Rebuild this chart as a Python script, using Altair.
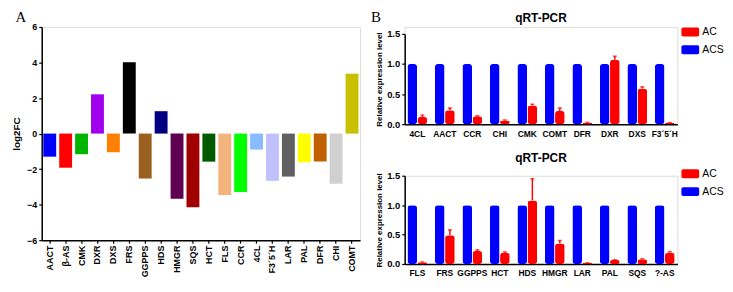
import altair as alt
import pandas as pd

FONT = "Liberation Sans"

# ---------------- Panel A data ----------------
genes_a = ["AACT", "β-AS", "CMK", "DXR", "DXS", "FRS", "GGPPS", "HDS", "HMGR", "SQS",
           "HCT", "FLS", "CCR", "4CL", "F3´5´H", "LAR", "PAL", "DFR", "CHI", "COMT"]
log2fc = [-1.3, -1.92, -1.16, 2.21, -1.05, 4.02, -2.53, 1.26, -3.67, -4.15,
          -1.58, -3.46, -3.29, -0.9, -2.66, -2.42, -1.62, -1.57, -2.83, 3.37]
colors_a = ["#0000ff", "#ff0000", "#00b400", "#a000ee", "#ff8000", "#000000", "#9a6020",
            "#000080", "#600050", "#a00000", "#005a00", "#f2b47c", "#00ff00", "#88bbff",
            "#c0c0ff", "#606060", "#ffff00", "#c06000", "#d0d0d0", "#c8c000"]
y_ticks_a = [-6, -4, -2, 0, 2, 4, 6]

# ---------------- Panel B data ----------------
genes_b1 = ["4CL", "AACT", "CCR", "CHI", "CMK", "COMT", "DFR", "DXR", "DXS", "F3´5´H"]
acs_b1 = [1.0, 1.0, 1.0, 1.0, 1.0, 1.0, 1.0, 1.0, 1.0, 1.0]
ac_b1 = [0.12, 0.23, 0.13, 0.06, 0.31, 0.22, 0.025, 1.07, 0.59, 0.02]
err_b1 = [0.03, 0.04, 0.01, 0.01, 0.02, 0.05, 0.005, 0.06, 0.03, 0.005]

genes_b2 = ["FLS", "FRS", "GGPPS", "HCT", "HDS", "HMGR", "LAR", "PAL", "SQS", "?-AS"]
acs_b2 = [1.0, 1.0, 1.0, 1.0, 1.0, 1.0, 1.0, 1.0, 1.0, 1.0]
ac_b2 = [0.03, 0.49, 0.22, 0.19, 1.08, 0.35, 0.017, 0.067, 0.08, 0.19]
err_b2 = [0.005, 0.09, 0.02, 0.015, 0.37, 0.05, 0.003, 0.005, 0.01, 0.02]

groups = ["AC", "ACS"]
group_colors = ["#ff0000", "#0000ff"]
bar_order = ["ACS", "AC"]
y_ticks_b = [0, 0.5, 1.0, 1.5]
panel_title_b = "qRT-PCR"
ytitle_b = "Relative expression level"
ytitle_a = "log2FC"
letters = ["A", "B"]

# rounded-rectangle legend swatch
SWATCH = ("M-0.9,-0.56 H0.9 A0.22,0.22 0 0 1 1.12,-0.34 V0.34 A0.22,0.22 0 0 1 0.9,0.56 "
          "H-0.9 A0.22,0.22 0 0 1 -1.12,0.34 V-0.34 A0.22,0.22 0 0 1 -0.9,-0.56 Z")

# ---------------- Panel A ----------------
df_a = pd.DataFrame({"gene": genes_a, "log2fc": log2fc})

axis_xa = alt.Axis(title=None, labelAngle=-90, labelFont=FONT, labelFontWeight="bold",
                   labelFontSize=9, labelColor="black", tickSize=3, tickWidth=1.2,
                   tickColor="black", domainColor="black", domainWidth=1.5,
                   labelPadding=2, labelOverlap=False)
scale_xa = alt.Scale(paddingInner=0.19, paddingOuter=0.1)
axis_ya = alt.Axis(values=y_ticks_a, title=ytitle_a, titleFont=FONT, titleFontSize=10,
                   titleFontWeight="bold", titleColor="black", titlePadding=5,
                   labelFont=FONT, labelFontWeight="bold", labelFontSize=9,
                   labelColor="black", tickSize=3, tickWidth=1.2, tickColor="black",
                   domainColor="black", domainWidth=1.5, labelPadding=2, grid=False,
                   labelOverlap=False)
scale_ya = alt.Scale(domain=[-6, 6], nice=False)

xa = alt.X("gene:N", sort=genes_a, scale=scale_xa, axis=axis_xa)

bars_a = alt.Chart(df_a).mark_bar().encode(
    x=xa, y=alt.Y("log2fc:Q", scale=scale_ya, axis=axis_ya),
    color=alt.Color("gene:N", scale=alt.Scale(domain=genes_a, range=colors_a), legend=None),
)
zero_a = alt.Chart(df_a).transform_calculate(zero="0").mark_rule(
    color="black", strokeWidth=1.5
).encode(x=xa, y=alt.Y("zero:Q", scale=scale_ya, axis=axis_ya))
letter_a = alt.Chart(pd.DataFrame({"t": [letters[0]]})).mark_text(
    font="Liberation Serif", fontSize=15, align="center", baseline="top", color="black"
).encode(x=alt.value(-21), y=alt.value(-17), text="t:N")

chart_a = alt.layer(bars_a, zero_a, letter_a).properties(width=321, height=215)


# ---------------- Panel B ----------------
def b_panel(genes, acs, ac, err, yrange, height, title_y, legend_y, letter=None):
    n = len(genes)
    df = pd.DataFrame({"gene": genes * 2,
                       "group": ["ACS"] * n + ["AC"] * n,
                       "value": acs + ac})
    df_err = pd.DataFrame({"gene": genes, "group": ["AC"] * n, "lo": ac,
                           "hi": [a + e for a, e in zip(ac, err)]})
    x = alt.X("gene:N", sort=genes,
              scale=alt.Scale(paddingInner=0.28, paddingOuter=0.1),
              axis=alt.Axis(title=None, labelAngle=0, ticks=False, labelFont=FONT,
                            labelFontWeight="bold", labelFontSize=8.5, labelColor="black",
                            labelPadding=5, domainColor="black", domainWidth=1.5,
                            labelOverlap=False))
    xo_scale = alt.Scale(domain=bar_order, paddingInner=0.05, paddingOuter=0)
    xo = alt.XOffset("group:N", sort=bar_order, scale=xo_scale)
    yscale = alt.Scale(domain=[0, 1.5], range=yrange, nice=False)
    yaxis = alt.Axis(values=y_ticks_b, format=".1f", title=ytitle_b, titleFont=FONT,
                     titleFontSize=8, titleFontWeight="bold", titleColor="black",
                     titlePadding=3, labelFont=FONT, labelFontWeight="bold",
                     labelFontSize=9.5, labelColor="black", tickSize=3,
                     tickWidth=1.2, tickColor="black", domainColor="black",
                     domainWidth=1.5, labelPadding=2, grid=False,
                     labelOverlap=False)
    color = alt.Color("group:N",
                      scale=alt.Scale(domain=groups, range=group_colors),
                      legend=alt.Legend(title=None, orient="none", legendX=280,
                                        legendY=legend_y, symbolType=SWATCH, symbolSize=256,
                                        symbolStrokeWidth=0, labelFont=FONT,
                                        labelFontSize=10.5, labelColor="black",
                                        labelOffset=4, rowPadding=4, padding=0))
    bars = alt.Chart(df).mark_bar(cornerRadius=3).encode(
        x=x, xOffset=xo, y=alt.Y("value:Q", scale=yscale, axis=yaxis), color=color)
    errs = alt.Chart(df_err).mark_rule(color="#ff0000", strokeWidth=1.5).encode(
        x=x, xOffset=xo, y=alt.Y("lo:Q", scale=yscale, axis=yaxis), y2="hi:Q")
    caps = alt.Chart(df_err).mark_tick(color="#ff0000", thickness=1.5, size=4,
                                       orient="horizontal").encode(
        x=x, xOffset=xo, y=alt.Y("hi:Q", scale=yscale, axis=yaxis))
    title = alt.Chart(pd.DataFrame({"t": [panel_title_b]})).mark_text(
        font=FONT, fontSize=12, fontWeight="bold", align="center", baseline="alphabetic",
        color="black").encode(x=alt.value(137.5), y=alt.value(title_y), text="t:N")
    layers = [bars, errs, caps, title]
    if letter is not None:
        layers.append(alt.Chart(pd.DataFrame({"t": [letter]})).mark_text(
            font="Liberation Serif", fontSize=15, align="center", baseline="top",
            color="black").encode(x=alt.value(-29), y=alt.value(-17), text="t:N"))
    return alt.layer(*layers).properties(width=275, height=height)


chart_b1 = b_panel(genes_b1, acs_b1, ac_b1, err_b1, [98, 7], 98, -5, -3, letters[1])
chart_b2 = b_panel(genes_b2, acs_b2, ac_b2, err_b2, [89, 0], 89, -14, -10)

right = alt.vconcat(chart_b1, chart_b2, spacing=52, bounds="flush").resolve_scale(
    color="independent")

chart = alt.hconcat(chart_a, right, spacing=45, bounds="flush").resolve_scale(
    color="independent"
).properties(
    padding={"left": 3, "top": 0, "right": 0, "bottom": 0}
).configure_view(stroke=None).configure(background="white")

chart.save("out.html", embed_options={"renderer": "svg", "actions": False})
